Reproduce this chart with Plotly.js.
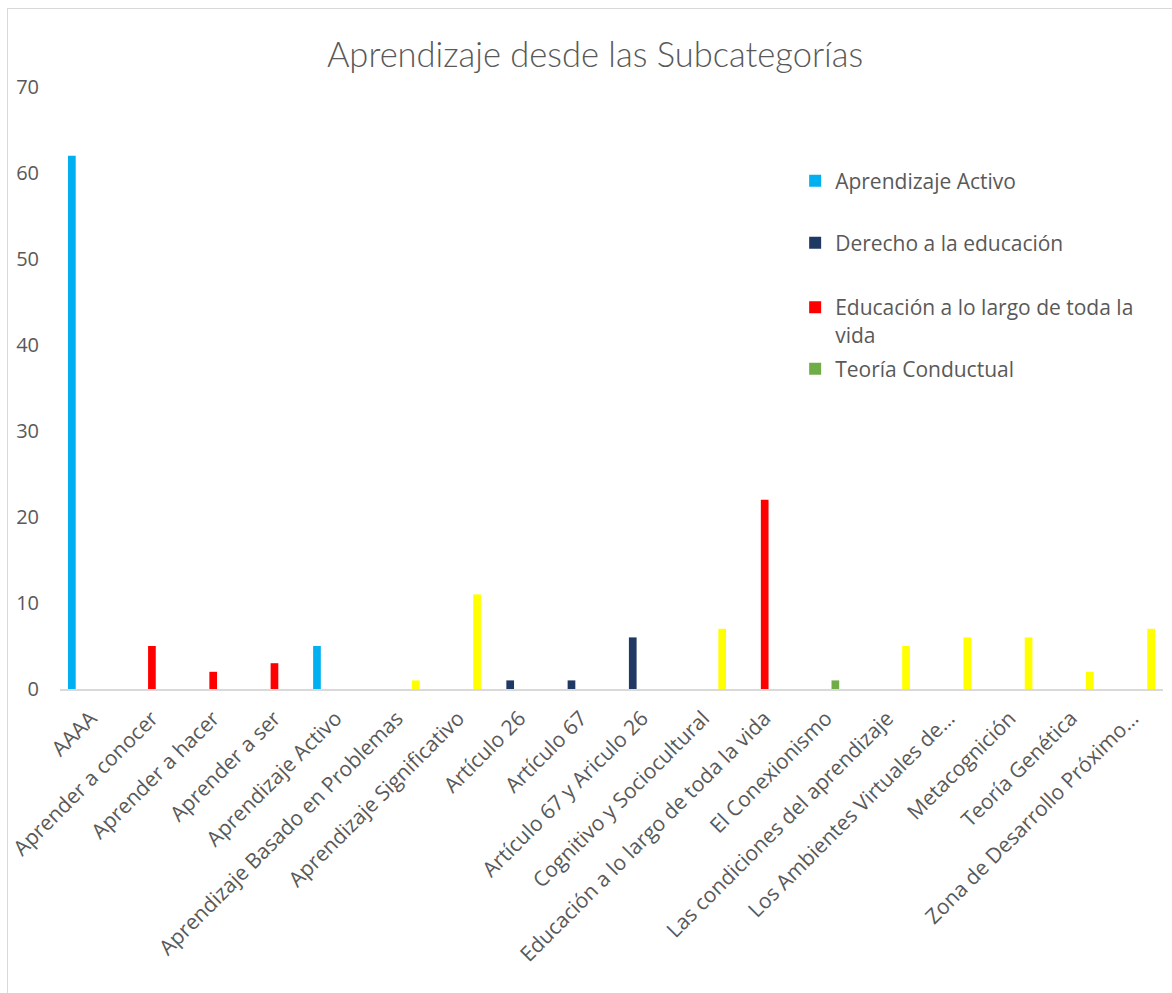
<!DOCTYPE html>
<html>
<head>
<meta charset="utf-8">
<script src="https://cdn.plot.ly/plotly-3.0.1.min.js"></script>
<style>
  html, body { margin: 0; padding: 0; background: #ffffff; }
  #wrap { position: relative; width: 1172px; height: 993px; overflow: hidden; }
  #frame { position: absolute; left: 7px; top: 8px; width: 1300px; height: 1200px;
           border-left: 1.5px solid #d9d9d9; border-top: 1.5px solid #d9d9d9; pointer-events: none; }
  #chart { position: absolute; left: 0; top: 0; width: 1172px; height: 993px; }
</style>
</head>
<body>
<div id="wrap">
  <div id="frame"></div>
  <div id="chart"></div>
</div>
<script>
const categories = [
  "AAAA",
  "Aprender a conocer",
  "Aprender a hacer",
  "Aprender a ser",
  "Aprendizaje Activo",
  "Aprendizaje Basado en Problemas",
  "Aprendizaje Significativo",
  "Artículo 26",
  "Artículo 67",
  "Artículo 67 y Ariculo 26",
  "Cognitivo y Sociocultural",
  "Educación a lo largo de toda la vida",
  "El Conexionismo",
  "Las condiciones del aprendizaje",
  "Los Ambientes Virtuales de…",
  "Metacognición",
  "Teoría Genética",
  "Zona de Desarrollo Próximo…"
];

const aprendizajeActivo = [62, null, null, null, 5, null, null, null, null, null, null, null, null, null, null, null, null, null];
const derechoEducacion  = [null, null, null, null, null, null, null, 1, 1, 6, null, null, null, null, null, null, null, null];
const educacionVida     = [null, 5, 2, 3, null, null, null, null, null, null, null, 22, null, null, null, null, null, null];
const teoriaConductual  = [null, null, null, null, null, null, null, null, null, null, null, null, 1, null, null, null, null, null];
const teoriasAprendizaje = [null, null, null, null, null, 1, 11, null, null, null, 7, null, null, 5, 6, 6, 2, 7];

const seriesNames = [
  "Aprendizaje Activo",
  "Derecho a la educación",
  "Educación a lo largo de toda la vida",
  "Teoría Conductual",
  "Teorías del aprendizaje"
];
const legendLabels = [
  "Aprendizaje Activo",
  "Derecho a la educación",
  "Educación a lo largo de toda la<br>vida",
  "Teoría Conductual"
];

const colors = ["#00b0f0", "#1f3864", "#ff0000", "#70ad47", "#ffff00"];
const seriesValues = [aprendizajeActivo, derechoEducacion, educacionVida, teoriaConductual, teoriasAprendizaje];
const legendIds = ["legend", "legend2", "legend3", "legend4"];

const traces = seriesValues.map((vals, i) => ({
  type: "bar",
  x: categories,
  y: vals,
  name: i < 4 ? legendLabels[i] : seriesNames[i],
  marker: { color: colors[i] },
  showlegend: i < 4,
  legend: i < 4 ? legendIds[i] : undefined,
  hoverinfo: "x+y+name"
}));

const textColor = "#595959";
const baseFont = "Open Sans, Noto Sans, sans-serif";

function legendAt(y, valign) {
  return {
    x: 0.6665, xanchor: "left",
    y: y, yanchor: "middle",
    bgcolor: "rgba(0,0,0,0)",
    borderwidth: 0,
    itemwidth: 30,
    valign: valign || "middle",
    font: { family: baseFont, size: 21, color: textColor }
  };
}

const layout = {
  width: 1172,
  height: 993,
  margin: { l: 59.5, r: 8.5, t: 87, b: 304, pad: 0 },
  paper_bgcolor: "rgba(0,0,0,0)",
  plot_bgcolor: "rgba(0,0,0,0)",
  barmode: "group",
  bargap: 0.234,
  bargroupgap: 0.18,
  title: {
    text: "Aprendizaje desde las Subcategorías",
    font: { family: "Lato, Open Sans, sans-serif", size: 34.5, color: textColor, weight: 300 },
    xref: "container", x: 0.5077, xanchor: "center",
    yref: "container", y: 0.9446, yanchor: "middle"
  },
  xaxis: {
    type: "category",
    tickangle: -45,
    showgrid: false,
    zeroline: false,
    showline: true,
    linecolor: "#d9d9d9",
    linewidth: 1.5,
    ticks: "",
    ticklabelstandoff: 7,
    automargin: false,
    tickfont: { family: baseFont, size: 21, color: textColor }
  },
  yaxis: {
    range: [0, 70],
    dtick: 10,
    showgrid: false,
    zeroline: false,
    showline: false,
    ticks: "",
    ticklabelstandoff: 20,
    automargin: false,
    tickfont: { family: baseFont, size: 20, color: textColor }
  },
  legend: legendAt((689 - 181) / 602),
  legend2: legendAt((689 - 243) / 602),
  legend3: legendAt((689 - 321) / 602, "top"),
  legend4: legendAt((689 - 369) / 602)
};

Plotly.newPlot("chart", traces, layout, { displayModeBar: false });
</script>
</body>
</html>
